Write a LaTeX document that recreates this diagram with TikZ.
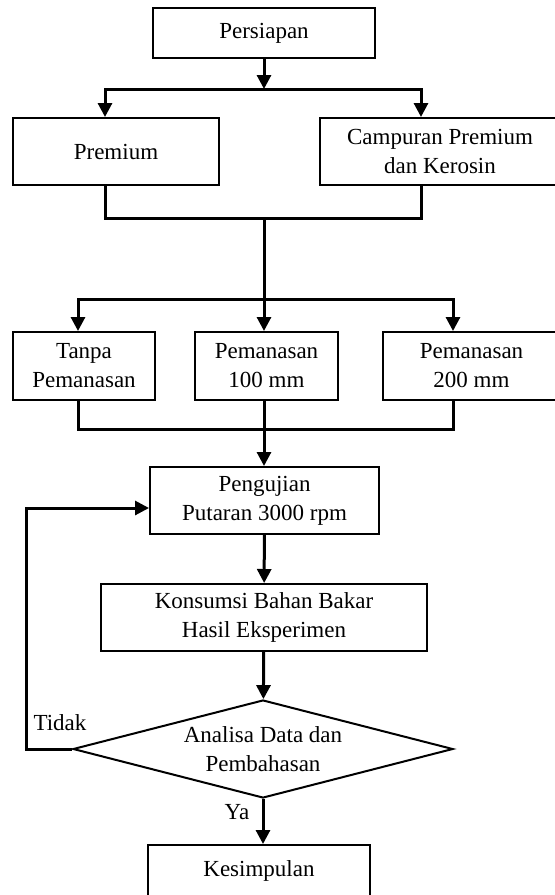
\documentclass[tikz,border=0pt]{standalone}
\usepackage{fontspec}
\setmainfont{Liberation Serif}
\usetikzlibrary{arrows.meta,shapes.geometric}

\begin{document}
\begin{tikzpicture}[x=0.5pt,y=-0.5pt,
    font=\fontsize{11.5}{14.5}\selectfont,
    box/.style={draw, line width=1pt, align=center, inner sep=0pt},
    decision/.style={draw, line width=1pt, diamond, aspect=3.9, align=center, inner sep=0pt},
    link/.style={line width=1.5pt},
    arrow/.style={link, -{Triangle[length=7pt,width=7pt]}}]

    % Picture frame (the right boxes run past it)
    \clip (0,0) rectangle (555,895);

    % Start
    \node[box, minimum width=111pt, minimum height=25pt] (Persiapan) at (264,33) {Persiapan};

    % Fuel
    \node[box, minimum width=103pt, minimum height=33.5pt] (Premium) at (116,151.5) {Premium};
    \node[box, minimum width=120pt, minimum height=33.5pt] (Campuran) at (440,151.5) {Campuran Premium\\dan Kerosin};

    % Heating variants
    \foreach \name/\cx/\w/\txt in {Tanpa/84/71/{Tanpa\\Pemanasan},
                                   PemA/266.5/71.5/{Pemanasan\\100 mm},
                                   PemB/471.5/88.5/{Pemanasan\\200 mm}}{
        \node[box, minimum width=\w pt, minimum height=34pt] (\name) at (\cx,366) {\txt};
      }

    % Test, result, analysis, end
    \node[box, minimum width=114.5pt, minimum height=33.5pt] (Pengujian) at (264.5,500.5) {Pengujian\\Putaran 3000 rpm};
    \node[box, minimum width=163pt, minimum height=33.5pt] (Konsumsi) at (264,617.5) {Konsumsi Bahan Bakar\\Hasil Eksperimen};
    \node[decision, minimum width=190pt, minimum height=49pt] (Analisa) at (263,749) {Analisa Data dan\\Pembahasan};
    \node[box, minimum width=111pt, minimum height=25.5pt] (Kesimpulan) at (259,870.5) {Kesimpulan};

    % Labels
    \node (Tidak) at (60,723) {Tidak};
    \node (Ya) at (237,812) {Ya};

    % Branch points
    \coordinate (fork1) at (264,89);
    \coordinate (join1) at (264,218);
    \coordinate (fork2) at (264,299);
    \coordinate (join2) at (264,429);
    \coordinate (xPrem) at (105,0);
    \coordinate (xCamp) at (421,0);
    \coordinate (xTanpa) at (78,0);
    \coordinate (xPemB) at (453,0);
    \coordinate (xLoop) at (26,0);

    % Persiapan -> fuels
    \draw[arrow] (Persiapan) -- (fork1);
    \draw[arrow] (fork1) -| (Premium.north -| xPrem);
    \draw[arrow] (fork1) -| (Campuran.north -| xCamp);

    % fuels -> heating
    \draw[link] (Premium.south -| xPrem) |- (join1) -| (Campuran.south -| xCamp);
    \draw[link] (join1) -- (fork2);
    \draw[arrow] (fork2) -| (Tanpa.north -| xTanpa);
    \draw[arrow] (fork2) -- (PemA.north -| fork2);
    \draw[arrow] (fork2) -| (PemB.north -| xPemB);

    % heating -> test
    \draw[link] (Tanpa.south -| xTanpa) |- (join2) -| (PemB.south -| xPemB);
    \draw[link] (PemA.south -| join2) -- (join2);
    \draw[arrow] (join2) -- (Pengujian.north -| join2);

    % test -> result -> analysis -> end
    \draw[arrow] (Pengujian) -- (Konsumsi);
    \draw[arrow] (Konsumsi) -- (Analisa);
    \draw[arrow] (Analisa.south) -- (Kesimpulan.north -| Analisa.south);

    % Tidak: back to the test
    \draw[arrow] (Analisa.west) -- (Analisa.west -| xLoop) |- ([yshift=-3.75pt]Pengujian.west);
  \end{tikzpicture}
\end{document}
